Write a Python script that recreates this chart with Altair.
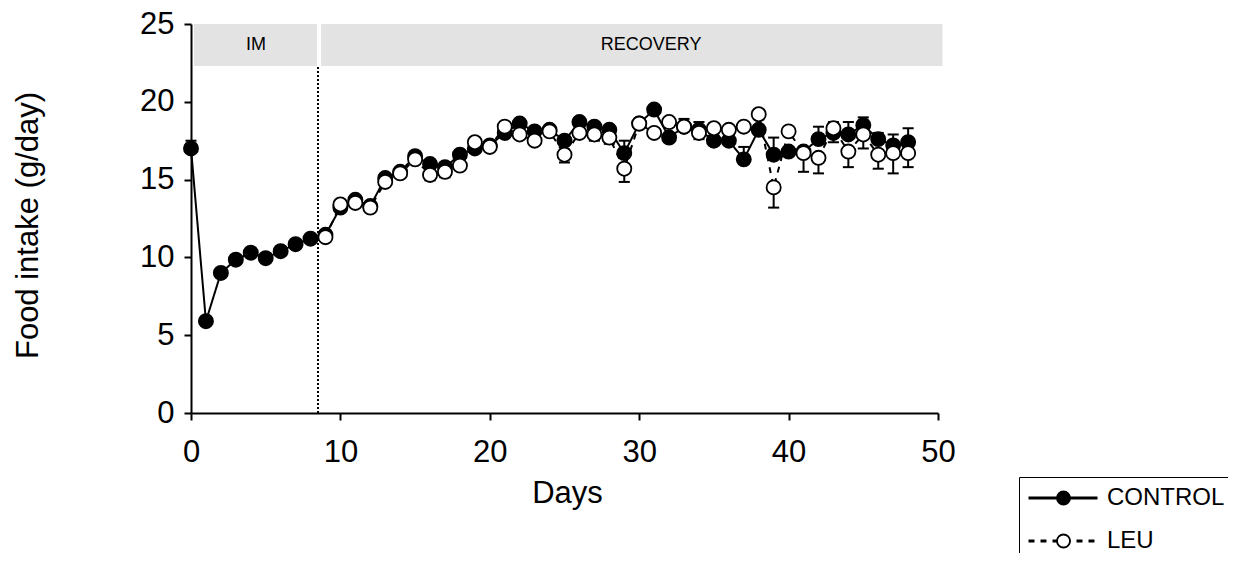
import altair as alt
import pandas as pd

# ---------------- data ----------------
days_control = list(range(0, 49))
control_mean = [17.0, 5.9, 9.0, 9.85, 10.3, 9.95, 10.4, 10.85, 11.2, 11.45,
                13.2, 13.7, 13.3, 15.1, 15.5, 16.5, 16.0, 15.8, 16.6, 17.0,
                17.2, 18.0, 18.6, 18.1, 18.2, 17.5, 18.7, 18.4, 18.2, 16.7,
                18.6, 19.5, 17.7, 18.4, 18.2, 17.5, 17.5, 16.3, 18.2, 16.6,
                16.8, 16.8, 17.6, 18.0, 17.9, 18.5, 17.6, 17.2, 17.4]
control_sem = [0.5, 0.2, 0.2, 0.2, 0.2, 0.3, 0.2, 0.2, 0.2, 0.2,
               0.2, 0.2, 0.2, 0.2, 0.2, 0.2, 0.2, 0.2, 0.2, 0.2,
               0.2, 0.2, 0.3, 0.2, 0.2, 0.3, 0.2, 0.3, 0.2, 0.8,
               0.3, 0.2, 0.2, 0.5, 0.5, 0.2, 0.2, 0.8, 0.3, 1.1,
               0.2, 0.2, 0.8, 0.7, 0.8, 0.5, 0.4, 0.7, 0.9]

days_leu = list(range(9, 49))
leu_mean = [11.3, 13.4, 13.5, 13.2, 14.85, 15.4, 16.3, 15.3, 15.5, 15.9,
            17.4, 17.1, 18.4, 17.9, 17.5, 18.1, 16.6, 18.0, 17.9, 17.7,
            15.7, 18.6, 18.0, 18.7, 18.4, 18.0, 18.3, 18.2, 18.4, 19.2,
            14.5, 18.1, 16.7, 16.4, 18.3, 16.8, 17.9, 16.6, 16.7, 16.7]
leu_sem = [0.2, 0.2, 0.2, 0.2, 0.2, 0.2, 0.2, 0.35, 0.35, 0.25,
           0.2, 0.2, 0.2, 0.2, 0.25, 0.2, 0.5, 0.25, 0.4, 0.4,
           0.85, 0.2, 0.2, 0.2, 0.2, 0.4, 0.2, 0.2, 0.2, 0.2,
           1.3, 0.3, 1.2, 1.0, 0.9, 1.0, 0.9, 0.9, 1.3, 0.9]

series_names = ["CONTROL", "LEU"]

phase_labels = ["IM", "RECOVERY"]
phase_start = [0.2, 8.7]
phase_end = [8.43, 50.3]
phase_label_x = [4.35, 30.8]
band_bottom = 22.3
band_top = 25.0
divider_day = 8.5

x_ticks = [0, 10, 20, 30, 40, 50]
y_ticks = [0, 5, 10, 15, 20, 25]

# ---------------- tables ----------------
rows = []
for d, m, s in zip(days_control, control_mean, control_sem):
    rows.append({"series": series_names[0], "day": d, "mean": m,
                 "lo": m, "hi": m + s, "cap": m + s})
for d, m, s in zip(days_leu, leu_mean, leu_sem):
    rows.append({"series": series_names[1], "day": d, "mean": m,
                 "lo": m - s, "hi": m, "cap": m - s})
df = pd.DataFrame(rows)
df["group"] = df["series"]

bands = pd.DataFrame({"label": phase_labels, "start": phase_start, "end": phase_end,
                      "lx": phase_label_x, "b0": [band_bottom] * 2, "b1": [band_top] * 2,
                      "ly": [(band_bottom + band_top) / 2] * 2})
divider = pd.DataFrame({"day": [divider_day], "y0": [0], "y1": [band_bottom]})

xscale = alt.Scale(domain=[0, 50], nice=False, zero=False)
yscale = alt.Scale(domain=[0, 25], nice=False)

FONT = "Liberation Sans"

x_axis = alt.Axis(values=x_ticks, title="Days", titleX=376, titleY=80,
                  titleBaseline="middle", labelPadding=17, labelFlush=False, format="d")
y_axis = alt.Axis(values=y_ticks, title="Food intake (g/day)", titleX=-163, titleY=201,
                  titleBaseline="middle", titleAlign="center", labelPadding=10,
                  labelFlush=False, format="d")

base = alt.Chart(df)

band_rect = alt.Chart(bands).mark_rect(color="#e3e3e3").encode(
    x=alt.X("start:Q", scale=xscale, axis=x_axis),
    x2="end:Q",
    y=alt.Y("b0:Q", scale=yscale, axis=y_axis),
    y2="b1:Q",
)
band_text = alt.Chart(bands).mark_text(
    font="Liberation Sans Narrow, Liberation Sans", fontSize=18, color="black"
).encode(
    x=alt.X("lx:Q", scale=xscale),
    y=alt.Y("ly:Q", scale=yscale),
    text="label:N",
)
div_rule = alt.Chart(divider).mark_rule(color="black", strokeWidth=2, strokeDash=[2, 2]).encode(
    x=alt.X("day:Q", scale=xscale),
    y=alt.Y("y0:Q", scale=yscale),
    y2="y1:Q",
)

lines = base.mark_line(color="black", strokeWidth=2).encode(
    x=alt.X("day:Q", scale=xscale),
    y=alt.Y("mean:Q", scale=yscale),
    strokeDash=alt.StrokeDash(
        "series:N",
        scale=alt.Scale(range=[[1, 0], [6, 6]]),
        legend=alt.Legend(
            title=None, orient="none", legendX=828, legendY=453,
            symbolType="stroke", symbolSize=4761, symbolStrokeWidth=3,
            symbolStrokeColor="black", clipHeight=26, rowPadding=17, padding=8,
            strokeColor="black", labelFont=FONT, labelFontSize=24, labelColor="black",
            labelOffset=8, labelExpr="datum.label + '\u00a0\u00a0\u00a0\u00a0\u00a0\u00a0\u00a0\u00a0'",
        ),
    ),
    detail="series:N",
)

err_bars = base.mark_rule(color="black", strokeWidth=2).encode(
    x=alt.X("day:Q", scale=xscale),
    y=alt.Y("lo:Q", scale=yscale),
    y2="hi:Q",
)
err_caps = base.transform_calculate(
    xl="datum.day - 0.37", xr="datum.day + 0.37"
).mark_rule(color="black", strokeWidth=2).encode(
    x=alt.X("xl:Q", scale=xscale),
    x2="xr:Q",
    y=alt.Y("cap:Q", scale=yscale),
)

points = base.mark_point(filled=True, size=200, stroke="black", strokeWidth=1.8,
                         opacity=1, shape="circle").encode(
    x=alt.X("day:Q", scale=xscale),
    y=alt.Y("mean:Q", scale=yscale),
    fill=alt.Fill(
        "group:N",
        scale=alt.Scale(range=["black", "white"]),
        legend=alt.Legend(
            title=None, orient="none", legendX=828, legendY=453,
            symbolType="circle", symbolSize=170, symbolStrokeWidth=1.8,
            symbolStrokeColor="black", symbolOffset=24.5, clipHeight=26,
            rowPadding=17, padding=8, labelExpr="''", labelFontSize=24,
            labelFont=FONT,
        ),
    ),
    order=alt.Order("series:N"),
)

chart = alt.layer(band_rect, band_text, div_rule, lines, err_bars, err_caps, points).properties(
    width=747, height=389,
    autosize=alt.AutoSizeParams(type="none"),
    padding={"left": 183, "top": 16, "right": 290, "bottom": 140},
).configure_view(stroke=None).configure_axis(
    domainColor="black", domainWidth=2, tickColor="black", tickWidth=2, tickSize=7,
    labelFont=FONT, labelFontSize=31, labelColor="black",
    titleFont=FONT, titleFontSize=31, titleColor="black", titleFontWeight="normal",
    grid=False,
)

chart.save("out.html", embed_options={"renderer": "svg", "actions": False})
